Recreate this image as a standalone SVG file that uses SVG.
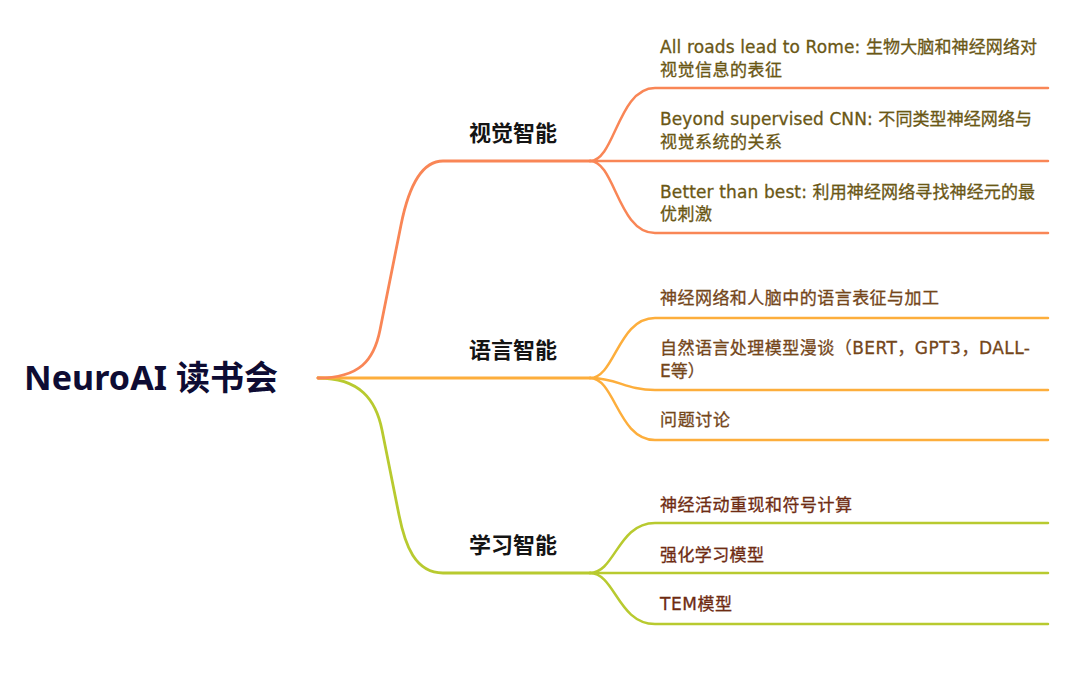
<svg xmlns="http://www.w3.org/2000/svg" width="1080" height="683" viewBox="0 0 1080 683">
<style>
.c{fill:none;stroke-linecap:round;stroke-linejoin:round}
.m{stroke-width:2.8}
.s{stroke-width:2.5}
.o{stroke:#F98656}
.y{stroke:#FDAE3C}
.g{stroke:#B8CA2F}
.root{font-family:"Noto Sans","Noto Sans CJK SC",sans-serif;font-weight:700;font-size:34px;fill:#0E0C33}
.cat{font-family:"Noto Sans CJK SC",sans-serif;font-weight:700;font-size:22px;fill:#141414}
.sub{font-family:"DejaVu Sans","Noto Sans CJK SC",sans-serif;font-size:17px;stroke-width:0.3}
.t1{fill:#6A5715;stroke:#6A5715}
.t2{fill:#74461A;stroke:#74461A}
.t3{fill:#6E2B12;stroke:#6E2B12}
</style>
<rect width="1080" height="683" fill="#FFFFFF"/>
<g id="connectors">
<path class="c m g" d="M318,378 C360,378 376,400 382,430 L399,515 C405,545 415,573 443,573 L590,573"/>
<path class="c m y" d="M318,378 L590,378"/>
<path class="c m o" d="M318,378 C360,378 374,360 380,330 L401,225 C407,195 418,161 443,161 L590,161"/>
<path class="c s o" d="M590,161 C615,161 618,88 655,88 L1048,88"/>
<path class="c s o" d="M590,161 L1048,161"/>
<path class="c s o" d="M590,161 C615,161 618,233 655,233 L1048,233"/>
<path class="c s y" d="M590,378 C615,378 618,318 655,318 L1048,318"/>
<path class="c s y" d="M590,378 C618,378 625,390 655,390 L1048,390"/>
<path class="c s y" d="M590,378 C615,378 618,440 655,440 L1048,440"/>
<path class="c s g" d="M590,573 C615,573 618,523 655,523 L1048,523"/>
<path class="c s g" d="M590,573 L1048,573"/>
<path class="c s g" d="M590,573 C615,573 618,624 655,624 L1048,624"/>
</g>
<g id="root"><text class="root" x="24" y="390" textLength="254" lengthAdjust="spacing">NeuroAI 读书会</text></g>
<g id="vision"><text class="cat" x="469" y="141">视觉智能</text></g>
<g id="language"><text class="cat" x="469" y="358">语言智能</text></g>
<g id="learning"><text class="cat" x="469" y="553">学习智能</text></g>
<g id="v1"><text class="sub t1" x="660" y="53" textLength="377">All roads lead to Rome: 生物大脑和神经网络对</text><text class="sub t1" x="660" y="76" textLength="122">视觉信息的表征</text></g>
<g id="v2"><text class="sub t1" x="660" y="125" textLength="372">Beyond supervised CNN: 不同类型神经网络与</text><text class="sub t1" x="660" y="148" textLength="122">视觉系统的关系</text></g>
<g id="v3"><text class="sub t1" x="660" y="198" textLength="375">Better than best: 利用神经网络寻找神经元的最</text><text class="sub t1" x="660" y="220" textLength="52">优刺激</text></g>
<g id="l1"><text class="sub t2" x="660" y="304" textLength="279">神经网络和人脑中的语言表征与加工</text></g>
<g id="l2"><text class="sub t2" x="660" y="354" textLength="370">自然语言处理模型漫谈（BERT，GPT3，DALL-</text><text class="sub t2" x="660" y="377">E等）</text></g>
<g id="l3"><text class="sub t2" x="660" y="426" textLength="70">问题讨论</text></g>
<g id="g1"><text class="sub t3" x="660" y="511" textLength="192">神经活动重现和符号计算</text></g>
<g id="g2"><text class="sub t3" x="660" y="561" textLength="104">强化学习模型</text></g>
<g id="g3"><text class="sub t3" x="660" y="610" textLength="72">TEM模型</text></g>
</svg>
